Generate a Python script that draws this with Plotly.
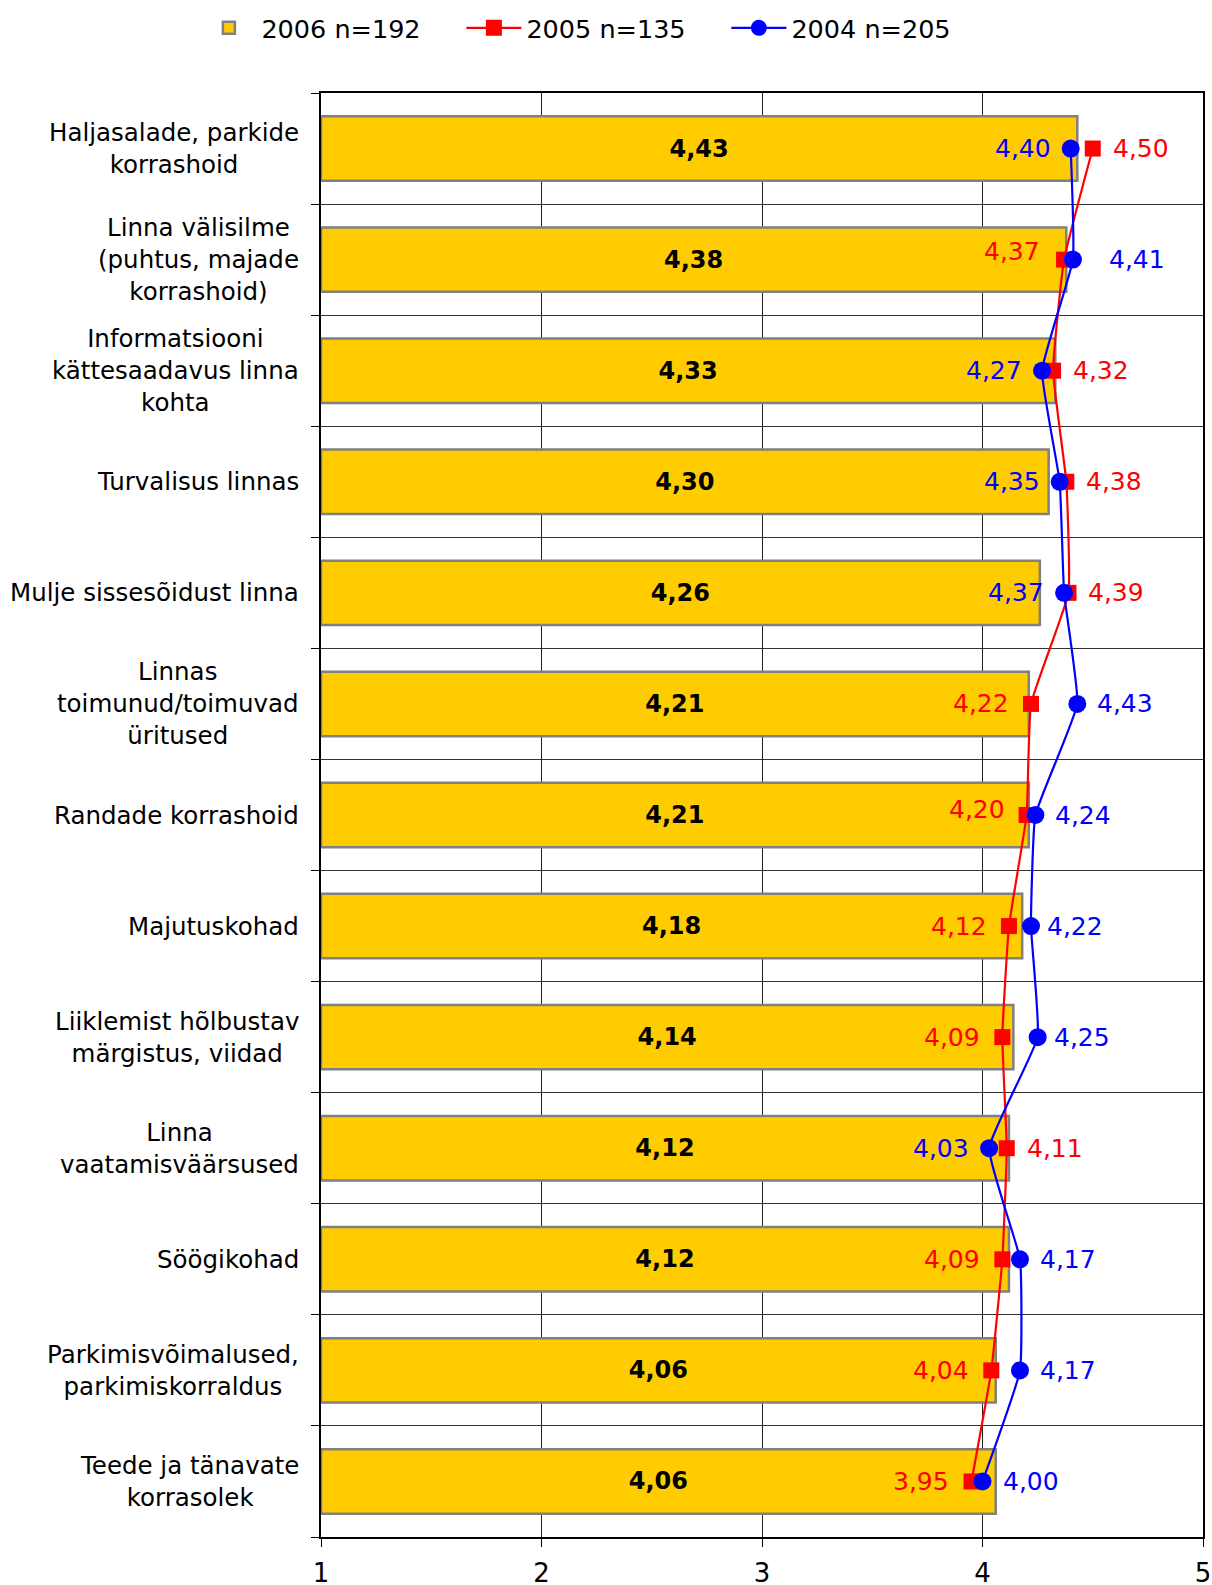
import plotly.graph_objects as go

# Survey ratings of city features, scale 1..5
categories = [
    "Haljasalade, parkide<br>korrashoid",
    "Linna välisilme<br>(puhtus, majade<br>korrashoid)",
    "Informatsiooni<br>kättesaadavus linna<br>kohta",
    "Turvalisus linnas",
    "Mulje sissesõidust linna",
    "Linnas<br>toimunud/toimuvad<br>üritused",
    "Randade korrashoid",
    "Majutuskohad",
    "Liiklemist hõlbustav<br>märgistus, viidad",
    "Linna<br>vaatamisväärsused",
    "Söögikohad",
    "Parkimisvõimalused,<br>parkimiskorraldus",
    "Teede ja tänavate<br>korrasolek",
]
values_2006 = [4.43, 4.38, 4.33, 4.30, 4.26, 4.21, 4.21, 4.18, 4.14, 4.12, 4.12, 4.06, 4.06]
values_2005 = [4.50, 4.37, 4.32, 4.38, 4.39, 4.22, 4.20, 4.12, 4.09, 4.11, 4.09, 4.04, 3.95]
values_2004 = [4.40, 4.41, 4.27, 4.35, 4.37, 4.43, 4.24, 4.22, 4.25, 4.03, 4.17, 4.17, 4.00]
series_names = ["2006 n=192", "2005 n=135", "2004 n=205"]
x_ticks = [1, 2, 3, 4, 5]

# which side of the marker each value label sits on, and its pixel gap
side_2005 = ["r", "l", "r", "r", "r", "l", "l", "l", "l", "r", "l", "l", "l"]
side_2004 = ["l", "r", "l", "l", "l", "r", "r", "r", "r", "l", "r", "r", "r"]
gap_2005 = [18, 22, 18, 18, 18, 20, 20, 20, 20, 18, 20, 20, 20]
gap_2004 = [18, 34, 18, 18, 18, 18, 18, 14, 14, 18, 18, 18, 18]
lift_2005 = [0, 8, 0, 0, 0, 0, 6, 0, 0, 0, 0, 0, 0]

FONT = "DejaVu Sans"
AXIS_MIN = 1


def fmt(v):
    return f"{v:.2f}".replace(".", ",")


ypos = list(range(len(categories)))

fig = go.Figure()

fig.add_trace(go.Bar(
    name=series_names[0],
    y=ypos,
    x=[v - AXIS_MIN for v in values_2006],
    base=[AXIS_MIN] * len(values_2006),
    orientation="h",
    marker=dict(color="#FFCC00", line=dict(color="#808080", width=2.5)),
    text=[fmt(v) for v in values_2006],
    textposition="inside",
    insidetextanchor="middle",
    textfont=dict(family=FONT, size=24, color="black", weight="bold"),
    width=0.58,
))

fig.add_trace(go.Scatter(
    name=series_names[1],
    y=ypos, x=values_2005,
    mode="lines+markers",
    line=dict(color="#FF0000", width=2.2, shape="spline", smoothing=0.35),
    marker=dict(symbol="square", size=16, color="#FF0000"),
))

fig.add_trace(go.Scatter(
    name=series_names[2],
    y=ypos, x=values_2004,
    mode="lines+markers",
    line=dict(color="#0000FF", width=2.2, shape="spline", smoothing=0.35),
    marker=dict(symbol="circle", size=18, color="#0000FF"),
))

annotations = []
for vals, sides, gaps, lifts, color in (
        (values_2005, side_2005, gap_2005, lift_2005, "#FF0000"),
        (values_2004, side_2004, gap_2004, [0] * len(values_2004), "#0000FF")):
    for i, (v, s, g, lf) in enumerate(zip(vals, sides, gaps, lifts)):
        annotations.append(dict(
            x=v, y=i, xref="x", yref="y",
            text=fmt(v), showarrow=False,
            xanchor="left" if s == "r" else "right",
            xshift=g if s == "r" else -g,
            yshift=lf,
            font=dict(family=FONT, size=25, color=color),
        ))

# category labels, centred multi-line text to the left of the axis
for i, c in enumerate(categories):
    annotations.append(dict(
        x=0, y=i, xref="paper", yref="y",
        text=c, showarrow=False,
        xanchor="right", align="center", xshift=-20,
        font=dict(family=FONT, size=24.5, color="black"),
    ))

fig.update_layout(
    width=1212, height=1585,
    margin=dict(l=321, r=9, t=93, b=48),
    paper_bgcolor="white", plot_bgcolor="white",
    font=dict(family=FONT, size=24, color="black"),
    barmode="overlay",
    showlegend=True,
    legend=dict(
        orientation="h", xref="container", yref="container",
        x=0.49, y=0.997, xanchor="center", yanchor="top",
        font=dict(family=FONT, size=25.5), traceorder="normal",
        itemwidth=55, entrywidth=195, entrywidthmode="pixels",
    ),
    annotations=annotations,
)

fig.update_xaxes(
    range=[1, 5], tickvals=x_ticks, ticktext=[str(t) for t in x_ticks],
    showgrid=True, gridcolor="#222222", gridwidth=1,
    showline=True, linecolor="black", linewidth=2, mirror=True,
    ticks="outside", ticklen=8, tickcolor="black",
    tickfont=dict(family=FONT, size=26), zeroline=False,
    automargin=False, ticklabelstandoff=4,
)

fig.update_yaxes(
    range=[len(categories) - 0.5, -0.5],
    tickvals=ypos, showticklabels=False, ticks="",
    showgrid=False, zeroline=False, automargin=False,
    showline=True, linecolor="black", linewidth=2, mirror=True,
    minor=dict(
        tickvals=[i - 0.5 for i in range(len(categories) + 1)],
        showgrid=True, gridcolor="#333333", gridwidth=1,
        ticks="outside", ticklen=8, tickcolor="black",
    ),
)

fig.write_html("out.html")
